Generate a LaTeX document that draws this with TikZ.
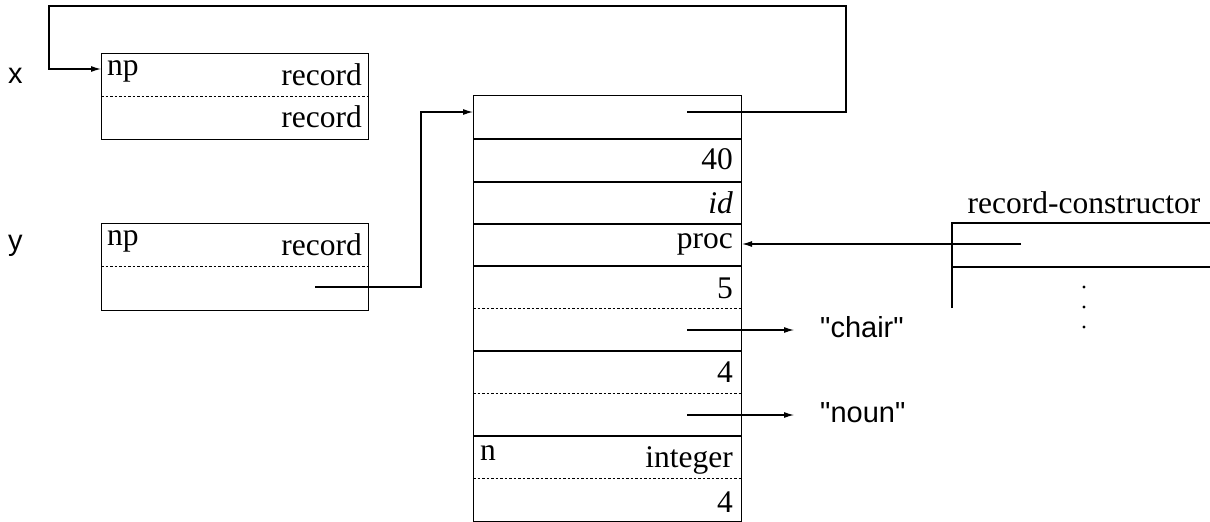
\documentclass[tikz,border=0pt]{standalone}
\usepackage{fontspec}
\setmainfont{Liberation Serif}
\newfontfamily\strfont{Liberation Sans}
\usetikzlibrary{arrows.meta}
\begin{document}
\begin{tikzpicture}[x=1pt,y=-1pt,
  serif/.style={font=\fontsize{31.5}{36}\selectfont, inner sep=0pt},
  sanslbl/.style={font=\strfont\fontsize{29}{34}\selectfont, inner sep=0pt},
  frame/.style={draw, line width=1.1pt, inner sep=0pt, anchor=north west},
  sepline/.style={line width=2pt},
  thinline/.style={line width=1.1pt},
  dotline/.style={line width=0.9pt, dash pattern=on 2.5pt off 2pt},
  conn/.style={line width=1.1pt, -{Latex[length=10pt,width=6pt]}}
]
\useasboundingbox (0,0) rectangle (1210,522);

% labels x, y
\node[sanslbl, anchor=base west] (lx) at (8,83) {x};
\node[sanslbl, anchor=base west] (ly) at (8,250) {y};

% x box
\node[frame, minimum width=267pt, minimum height=86pt] (xbox) at (101,53) {};
\draw[dotline] (101,96) -- (368,96);
\node[serif, anchor=base west] (xnp) at (107,75) {np};
\node[serif, anchor=base east] (xr1) at (362,85) {record};
\node[serif, anchor=base east] (xr2) at (362,127) {record};

% y box
\node[frame, minimum width=267pt, minimum height=87pt] (ybox) at (101,223) {};
\draw[dotline] (101,266) -- (368,266);
\node[serif, anchor=base west] (ynp) at (107,245) {np};
\node[serif, anchor=base east] (yr1) at (362,255) {record};

% big column
\node[frame, minimum width=268pt, minimum height=426pt] (big) at (473,95) {};
\draw[thinline] (473,139) -- (741,139);
\draw[sepline] (473,182) -- (741,182);
\draw[sepline] (473,224) -- (741,224);
\draw[sepline] (473,266) -- (741,266);
\draw[dotline] (473,308) -- (741,308);
\draw[sepline] (473,351) -- (741,351);
\draw[dotline] (473,393) -- (741,393);
\draw[sepline] (473,436) -- (741,436);
\draw[dotline] (473,478) -- (741,478);

\node[serif, anchor=base east] (v40) at (733,169) {40};
\node[serif, anchor=base east] (vid) at (733,213) {\itshape id};
\node[serif, anchor=base east] (vproc) at (733,248) {proc};
\node[serif, anchor=base east] (v5) at (733,298) {5};
\node[serif, anchor=base east] (v4a) at (733,382) {4};
\node[serif, anchor=base west] (vn) at (480,460) {n};
\node[serif, anchor=base east] (vint) at (733,467) {integer};
\node[serif, anchor=base east] (v4b) at (733,512) {4};

% strings
\node[sanslbl, anchor=base west] (chair) at (820,337) {"chair"};
\node[sanslbl, anchor=base west] (noun) at (820,422) {"noun"};

% record-constructor
\node[serif, anchor=base] (rc) at (1084,213) {record-constructor};
\draw[thinline] (952,308) -- (952,223) -- (1210,223);
\draw[sepline] (952,267) -- (1210,267);
\foreach \yy in {287,307,327} \fill (1084,\yy) circle (1.7pt);

% connectors
\coordinate (psrc) at (687,112);
\coordinate (xin) at (101,69);
\draw[conn] (psrc) -- (846,112) |- (49,6) |- (xin);

\coordinate (ysrc) at (315,287);
\coordinate (bin) at (473,112);
\draw[conn] (ysrc) -| (421,112) -- (bin);

\coordinate (rcsrc) at (1021,244);
\draw[conn] (rcsrc) -- (big.east |- rcsrc);

\coordinate (chsrc) at (687,330);
\coordinate (chend) at (794,330);
\draw[conn] (chsrc) -- (chend);

\coordinate (nsrc) at (687,415);
\coordinate (nend) at (794,415);
\draw[conn] (nsrc) -- (nend);
\end{tikzpicture}
\end{document}
